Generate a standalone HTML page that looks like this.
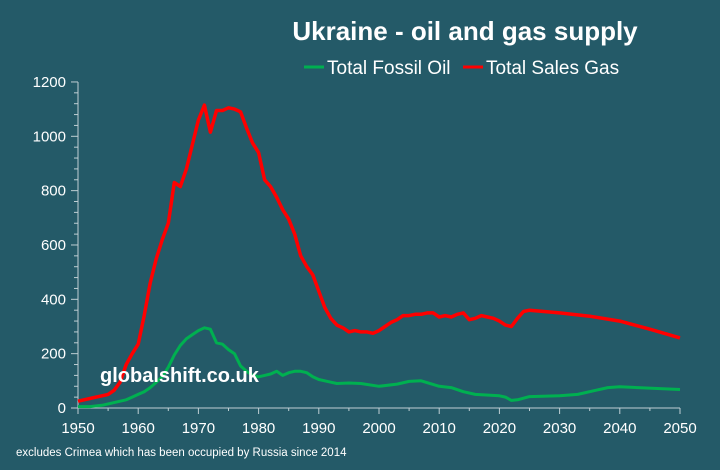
<!DOCTYPE html>
<html><head><meta charset="utf-8"><style>
html,body{margin:0;padding:0;background:#245a68;}
svg{display:block;font-family:"Liberation Sans",sans-serif;}
</style></head><body>
<svg id="s" width="720" height="470" xmlns="http://www.w3.org/2000/svg">
<rect width="720" height="470" fill="#245a68"/>
<text x="465" y="40" fill="#fff" font-size="26" font-weight="bold" text-anchor="middle">Ukraine - oil and gas supply</text>
<line x1="304" y1="67" x2="324" y2="67" stroke="#00b050" stroke-width="3"/>
<text x="327" y="74" fill="#fff" font-size="19">Total Fossil Oil</text>
<line x1="463" y1="67" x2="483" y2="67" stroke="#ff0000" stroke-width="3"/>
<text x="486" y="74" fill="#fff" font-size="19">Total Sales Gas</text>
<g id="ax" stroke="#bfcfd4" stroke-width="1"></g>
<g id="lb" fill="#fff" font-size="15"></g>
<path id="g" fill="none" stroke="#00b050" stroke-width="3" stroke-linejoin="round"/>
<path id="r" fill="none" stroke="#ff0000" stroke-width="3.5" stroke-linejoin="round"/>
<text x="100" y="382" fill="#fff" font-size="20" font-weight="bold">globalshift.co.uk</text>
<text x="16" y="456" fill="#fff" font-size="11.5">excludes Crimea which has been occupied by Russia since 2014</text>
</svg>
<script>
var X=function(y){return 78+(y-1950)*6.02},Y=function(v){return 408-v*0.2717};
var ax=document.getElementById('ax'),lb=document.getElementById('lb'),h='',t='';
h+='<line x1="78" y1="82" x2="78" y2="408"/><line x1="78" y1="408" x2="680" y2="408"/>';
for(var v=0;v<=1200;v+=40){var y=Y(v);h+='<line x1="'+(v%200?74:71)+'" y1="'+y+'" x2="78" y2="'+y+'"/>';if(v%200==0)t+='<text x="66" y="'+(y+5)+'" text-anchor="end">'+v+'</text>';}
for(var yr=1950;yr<=2050;yr+=5){var x=X(yr);h+='<line x1="'+x+'" y1="408" x2="'+x+'" y2="'+(yr%10?411:414)+'"/>';if(yr%10==0)t+='<text x="'+x+'" y="433" text-anchor="middle">'+yr+'</text>';}
ax.innerHTML=h;lb.innerHTML=t;
var R=[[1950,25],[1951,30],[1952,35],[1953,40],[1954,45],[1955,50],[1956,65],[1957,95],[1958,160],[1959,200],[1960,235],[1961,340],[1962,460],[1963,550],[1964,620],[1965,680],[1966,830],[1967,815],[1968,880],[1969,970],[1970,1060],[1971,1115],[1972,1015],[1973,1095],[1974,1095],[1975,1105],[1976,1100],[1977,1090],[1978,1030],[1979,975],[1980,940],[1981,840],[1982,815],[1983,775],[1984,730],[1985,695],[1986,640],[1987,560],[1988,520],[1989,490],[1990,430],[1991,370],[1992,330],[1993,305],[1994,295],[1995,280],[1996,285],[1997,280],[1998,280],[1999,275],[2000,285],[2001,300],[2002,315],[2003,325],[2004,340],[2005,340],[2006,345],[2007,345],[2008,350],[2009,350],[2010,335],[2011,340],[2012,335],[2013,345],[2014,350],[2015,325],[2016,330],[2017,340],[2018,335],[2019,330],[2020,320],[2021,305],[2022,300],[2023,330],[2024,355],[2025,360],[2030,350],[2035,338],[2040,320],[2045,290],[2050,258]];
var G=[[1950,5],[1952,5],[1954,10],[1955,15],[1957,25],[1958,30],[1959,40],[1960,50],[1961,60],[1962,75],[1963,95],[1964,115],[1965,150],[1966,195],[1967,230],[1968,255],[1969,270],[1970,285],[1971,295],[1972,290],[1973,240],[1974,235],[1975,215],[1976,200],[1977,155],[1978,135],[1979,120],[1980,115],[1981,120],[1982,125],[1983,135],[1984,120],[1985,130],[1986,135],[1987,135],[1988,130],[1989,115],[1990,105],[1992,95],[1993,90],[1995,92],[1997,90],[2000,80],[2003,88],[2005,98],[2007,100],[2010,80],[2012,75],[2014,60],[2016,50],[2020,45],[2021,40],[2022,28],[2023,30],[2025,42],[2030,45],[2033,50],[2036,65],[2038,75],[2040,78],[2050,68]];
function P(a){return a.map(function(p,i){return (i?'L':'M')+X(p[0]).toFixed(1)+' '+Y(p[1]).toFixed(1)}).join('')}
document.getElementById('r').setAttribute('d',P(R));
document.getElementById('g').setAttribute('d',P(G));
</script>
</body></html>
